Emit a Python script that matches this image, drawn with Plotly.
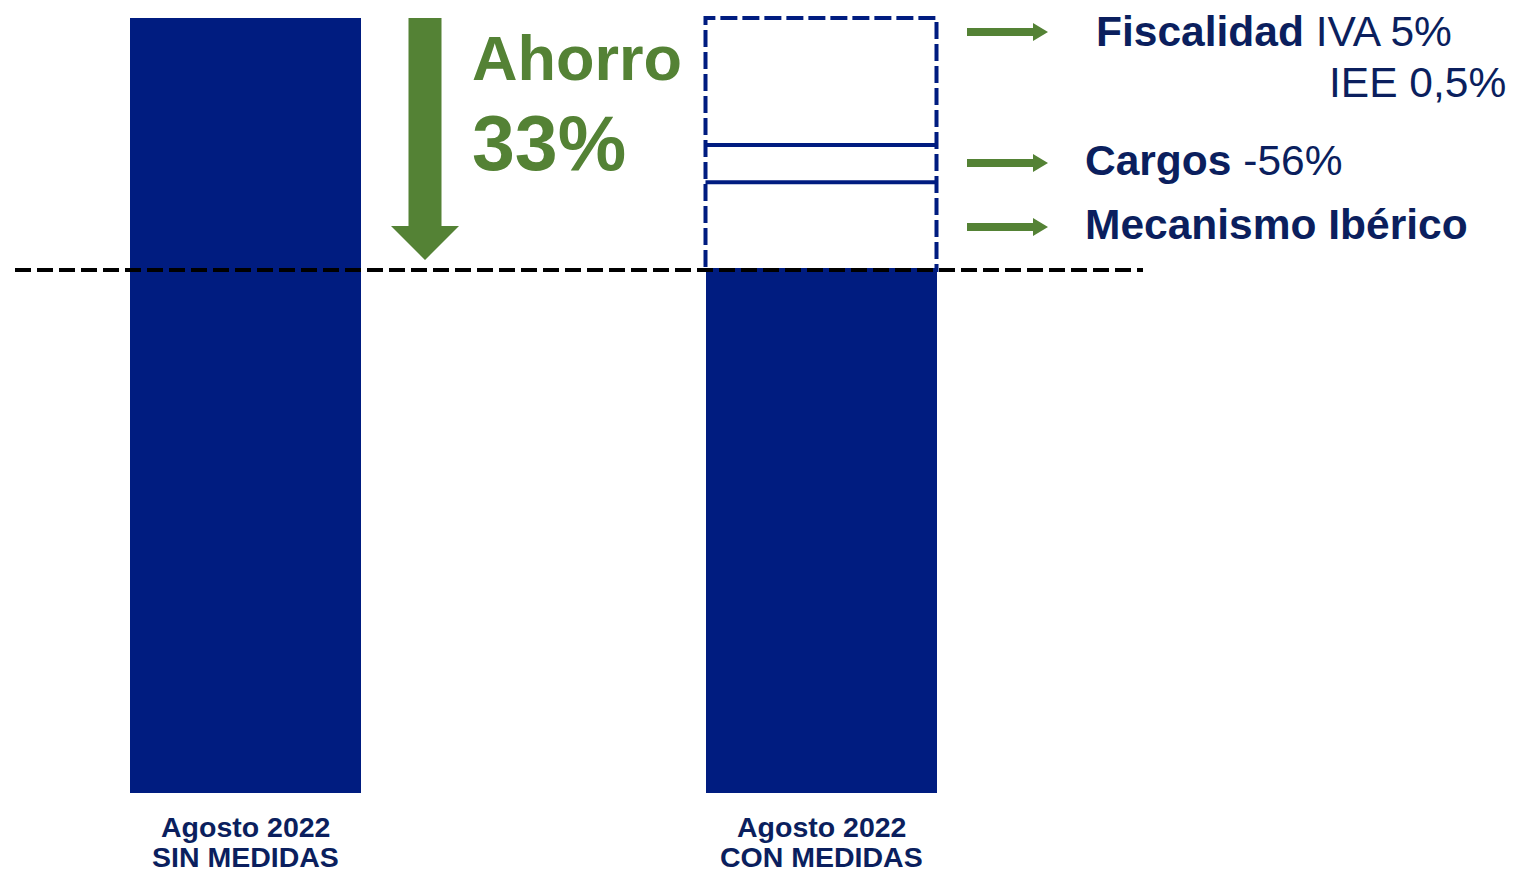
import plotly.graph_objects as go

# ---- data ----
category_line1 = ["Agosto 2022", "Agosto 2022"]
category_line2 = ["SIN MEDIDAS", "CON MEDIDAS"]
bar_values = [100.0, 67.5]                      # relative cost
segment_names = ["Mecanismo Ibérico", "Cargos", "Fiscalidad"]
segment_values = [11.3, 4.8, 16.4]              # savings stacked on second bar
saving_label = "33%"

NAVY = "#001c80"
TEXT_NAVY = "#0b1f5e"
GREEN = "#548235"
FONT = "Liberation Sans, Arial, sans-serif"

W, H = 1513, 873
# axis ranges chosen so the layout matches the reference geometry
X0_PX, X_UNIT = 245.0, 576.0
Y0_PX, Y_UNIT = 793.0, 7.75
xr = [(0 - X0_PX) / X_UNIT, (W - X0_PX) / X_UNIT]
yr = [(Y0_PX - H) / Y_UNIT, Y0_PX / Y_UNIT]


def px2x(px):
    return (px - X0_PX) / X_UNIT


def py2y(py):
    return (Y0_PX - py) / Y_UNIT


xs = [0, 1]
bar_w = 231 / X_UNIT

fig = go.Figure()
fig.add_trace(go.Bar(x=xs, y=bar_values, width=bar_w, marker=dict(color=NAVY, line=dict(width=0)),
                     showlegend=False, hoverinfo="skip"))

shapes = []
# dashed outline of the savings box
base = bar_values[1]
top = base + sum(segment_values)
shapes.append(dict(type="rect", xref="x", yref="y", x0=xs[1] - bar_w / 2, x1=xs[1] + bar_w / 2,
                   y0=base, y1=top, line=dict(color=NAVY, width=4, dash="17px,5px"),
                   fillcolor="rgba(0,0,0,0)"))
# internal segment boundaries
cum = base
for v in segment_values[:-1]:
    cum += v
    shapes.append(dict(type="line", xref="x", yref="y", x0=xs[1] - bar_w / 2, x1=xs[1] + bar_w / 2,
                       y0=cum, y1=cum, line=dict(color=NAVY, width=4)))
# black dashed reference line at the reduced level
shapes.append(dict(type="line", xref="x", yref="y", x0=px2x(15), x1=px2x(1143), y0=base, y1=base,
                   line=dict(color="black", width=4, dash="16px,6px")))

# big green down arrow
cx = px2x(425)
sh = 16.5 / X_UNIT
hh = 34 / X_UNIT
y_top = bar_values[0]
y_hb = py2y(226)
y_tip = py2y(260)
path = (f"M {cx - sh},{y_top} L {cx + sh},{y_top} L {cx + sh},{y_hb} L {cx + hh},{y_hb} "
        f"L {cx},{y_tip} L {cx - hh},{y_hb} L {cx - sh},{y_hb} Z")
shapes.append(dict(type="path", xref="x", yref="y", path=path, fillcolor=GREEN, line=dict(width=0)))

# small green right arrows
for py in [32, 163, 227]:
    yc = py2y(py)
    t = 4 / Y_UNIT
    hw = 9 / Y_UNIT
    xa, xb, xc = px2x(967), px2x(1033), px2x(1048)
    p = (f"M {xa},{yc + t} L {xb},{yc + t} L {xb},{yc + hw} L {xc},{yc} L {xb},{yc - hw} "
         f"L {xb},{yc - t} L {xa},{yc - t} Z")
    shapes.append(dict(type="path", xref="x", yref="y", path=p, fillcolor=GREEN, line=dict(width=0)))

annotations = []
# category labels
cfont = dict(family=FONT, size=28.5, color=TEXT_NAVY)
for x, l1, l2 in zip(xs, category_line1, category_line2):
    annotations.append(dict(x=x, y=py2y(827), xref="x", yref="y", text=f"<b>{l1}</b>", showarrow=False,
                            font=cfont, xanchor="center", yanchor="middle"))
    annotations.append(dict(x=x, y=py2y(857), xref="x", yref="y", text=f"<b>{l2}</b>", showarrow=False,
                            font=cfont, xanchor="center", yanchor="middle", height=28))
# Ahorro text
annotations.append(dict(x=px2x(470), y=py2y(58), xref="x", yref="y", text="<b>Ahorro</b>", showarrow=False,
                        font=dict(family=FONT, size=63, color=GREEN), xanchor="left", yanchor="middle"))
annotations.append(dict(x=px2x(470), y=py2y(143), xref="x", yref="y", text=f"<b>{saving_label}</b>",
                        showarrow=False, font=dict(family=FONT, size=77, color=GREEN),
                        xanchor="left", yanchor="middle"))
# right labels
rfont = dict(family=FONT, size=42.5, color=TEXT_NAVY)
annotations.append(dict(x=px2x(1094), y=py2y(31), xref="x", yref="y", text="<b>Fiscalidad</b> IVA 5%",
                        showarrow=False, font=rfont, xanchor="left", yanchor="middle"))
annotations.append(dict(x=px2x(1508), y=py2y(82), xref="x", yref="y", text="IEE 0,5%",
                        showarrow=False, font=rfont, xanchor="right", yanchor="middle"))
annotations.append(dict(x=px2x(1083), y=py2y(160), xref="x", yref="y", text="<b>Cargos</b> -56%",
                        showarrow=False, font=rfont, xanchor="left", yanchor="middle"))
annotations.append(dict(x=px2x(1083), y=py2y(224), xref="x", yref="y", text="<b>Mecanismo Ibérico</b>",
                        showarrow=False, font=rfont, xanchor="left", yanchor="middle"))

fig.update_layout(
    width=W, height=H, margin=dict(l=0, r=0, t=0, b=0),
    paper_bgcolor="white", plot_bgcolor="white",
    xaxis=dict(range=xr, visible=False, fixedrange=True),
    yaxis=dict(range=yr, visible=False, fixedrange=True),
    shapes=shapes, annotations=annotations, bargap=0,
)

fig.write_html("out.html", config={"displayModeBar": False},
               post_script="document.body.style.margin='0';document.body.style.overflow='hidden';")
